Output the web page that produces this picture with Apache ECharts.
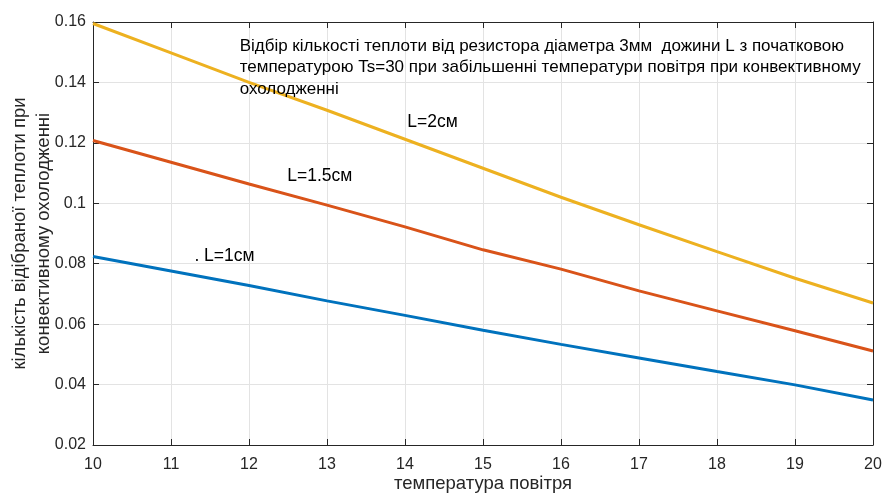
<!DOCTYPE html>
<html><head><meta charset="utf-8">
<script src="https://cdn.jsdelivr.net/npm/echarts@6/dist/echarts.min.js"></script>
<style>html,body{margin:0;padding:0;background:#fff}#c{width:885px;height:496px}</style>
</head><body><div id="c"></div>
<script>
const temps = [10, 11, 12, 13, 14, 15, 16, 17, 18, 19, 20];
const qL2 = [0.1595, 0.1498, 0.1400, 0.1308, 0.1212, 0.1116, 0.1020, 0.0929, 0.0840, 0.0752, 0.0670];
const qL15 = [0.1208, 0.1136, 0.1064, 0.0994, 0.0922, 0.0846, 0.0782, 0.0710, 0.0644, 0.0578, 0.0511];
const qL1 = [0.0824, 0.0776, 0.0728, 0.0677, 0.0629, 0.0580, 0.0533, 0.0488, 0.0443, 0.0399, 0.0349];
const seriesNames = ['L=1см', 'L=1.5см', 'L=2см'];
const labelText = ['. L=1см', 'L=1.5см', 'L=2см'];
const labelAnchors = [[11.3, 0.0826], [12.49, 0.109], [14.03, 0.1269]];
const titleLines = [
  'Відбір кількості теплоти від резистора діаметра 3мм  дожини L з початковою',
  'температурою Ts=30 при забільшенні температури повітря при конвективному',
  'охолодженні'
];
const xLabel = 'температура повітря';
const yLabel = 'кількість відібраної теплоти при\nконвективному охолодженні';

const FONT = '"Liberation Sans", Arial, sans-serif';
const AX = '#262626';
const chart = echarts.init(document.getElementById('c'), null, {renderer: 'canvas'});
const pair = arr => temps.map((t, i) => [t, arr[i]]);
const baseX = {
  type: 'value', min: 10, max: 20, interval: 1,
  axisLine: {show: true, onZero: false, lineStyle: {color: AX, width: 1}},
  axisTick: {show: true, inside: true, length: 6, lineStyle: {color: AX}},
};
const baseY = {
  type: 'value', min: 0.02, max: 0.16, interval: 0.02,
  axisLine: {show: true, onZero: false, lineStyle: {color: AX, width: 1}},
  axisTick: {show: true, inside: true, length: 6, lineStyle: {color: AX}},
};
chart.setOption({
  animation: false,
  grid: {left: 93, right: 12, top: 22, bottom: 51, containLabel: false, outerBoundsMode: 'none'},
  xAxis: [
    Object.assign({}, baseX, {
      position: 'bottom',
      name: xLabel, nameLocation: 'middle', nameGap: 29, nameMoveOverlap: false,
      nameTextStyle: {fontFamily: FONT, fontSize: 18.5, color: AX},
      axisLabel: {fontFamily: FONT, fontSize: 16, color: AX, margin: 12},
      splitLine: {show: true, lineStyle: {color: '#e3e3e3', width: 1}}
    }),
    Object.assign({}, baseX, {
      position: 'top', axisLabel: {show: false}, splitLine: {show: false}
    })
  ],
  yAxis: [
    Object.assign({}, baseY, {
      position: 'left',
      name: yLabel, nameLocation: 'middle', nameGap: 37, nameRotate: 90, nameMoveOverlap: false,
      nameTextStyle: {fontFamily: FONT, fontSize: 18.5, color: AX, lineHeight: 24},
      axisLabel: {fontFamily: FONT, fontSize: 16, color: AX, margin: 7,
        formatter: v => String(Math.round(v * 100) / 100)},
      splitLine: {show: true, lineStyle: {color: '#e3e3e3', width: 1}}
    }),
    Object.assign({}, baseY, {
      position: 'right', axisLabel: {show: false}, splitLine: {show: false}
    })
  ],
  series: [
    {name: seriesNames[0], type: 'line', data: pair(qL1), showSymbol: false, symbol: 'none',
     lineStyle: {color: '#0072BD', width: 3}},
    {name: seriesNames[1], type: 'line', data: pair(qL15), showSymbol: false, symbol: 'none',
     lineStyle: {color: '#D95319', width: 3}},
    {name: seriesNames[2], type: 'line', data: pair(qL2), showSymbol: false, symbol: 'none',
     lineStyle: {color: '#EDB120', width: 3}}
  ]
});
const gfx = [];
labelAnchors.forEach((a, i) => {
  const p = chart.convertToPixel({xAxisIndex: 0, yAxisIndex: 0}, a);
  gfx.push({type: 'text', x: p[0], y: p[1], z: 100,
    style: {text: labelText[i], fontFamily: FONT, fontSize: 17.5, fill: '#000',
      textAlign: 'left', textVerticalAlign: 'middle'}});
});
const tp = chart.convertToPixel({xAxisIndex: 0, yAxisIndex: 0}, [11.88, 0.152]);
titleLines.forEach((t, i) => {
  gfx.push({type: 'text', x: tp[0], y: tp[1] + i * 21.5, z: 100,
    style: {text: t, fontFamily: FONT, fontSize: 17, fill: '#000',
      textAlign: 'left', textVerticalAlign: 'middle'}});
});
chart.setOption({graphic: gfx});
</script>
</body></html>
